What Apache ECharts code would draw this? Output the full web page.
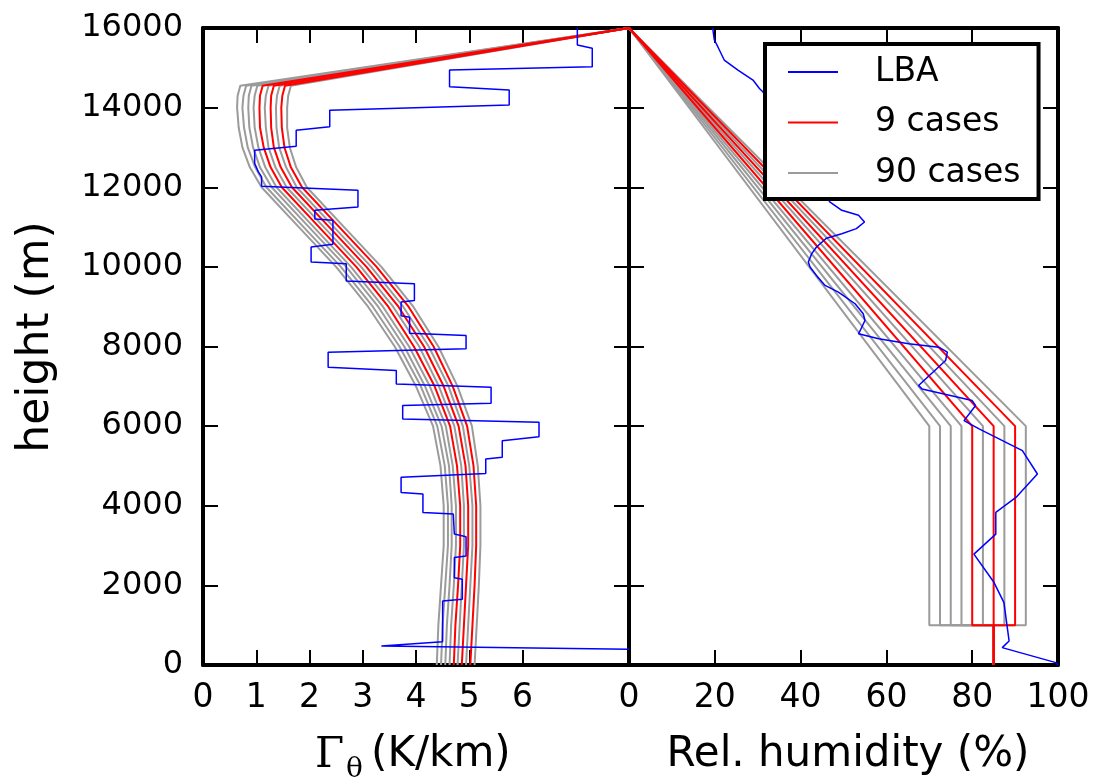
<!DOCTYPE html>
<html>
<head>
<meta charset="utf-8">
<script src="https://cdn.jsdelivr.net/npm/echarts@6/dist/echarts.min.js"></script>
<style>
  html, body { margin: 0; padding: 0; background: #fff; }
  #chart { width: 1094px; height: 781px; }
</style>
</head>
<body>
<div id="chart"></div>
<script>
// Heights (m) at which the lapse-rate profiles are given
const gammaHeights = [0, 1000, 2000, 3000, 4000, 5000, 6000, 7000, 8000, 9000, 10000,
  11000, 12000, 12500, 13000, 13500, 14000, 14300, 14550, 16000];

// Potential temperature lapse rate profiles (K/km), one per case
const gammaProfiles = [
  [4.39, 4.42, 4.47, 4.52, 4.52, 4.46, 4.32, 4.00, 3.60, 3.10, 2.50, 1.80, 1.10, 0.88, 0.74, 0.67, 0.64, 0.65, 0.70, 8],
  [4.47, 4.50, 4.55, 4.60, 4.60, 4.54, 4.40, 4.09, 3.69, 3.19, 2.59, 1.89, 1.19, 0.98, 0.84, 0.77, 0.74, 0.76, 0.81, 8],
  [4.55, 4.58, 4.63, 4.67, 4.67, 4.62, 4.48, 4.17, 3.78, 3.29, 2.69, 1.99, 1.29, 1.07, 0.94, 0.87, 0.85, 0.86, 0.91, 8],
  [4.63, 4.66, 4.71, 4.75, 4.75, 4.69, 4.56, 4.26, 3.87, 3.38, 2.78, 2.08, 1.38, 1.17, 1.04, 0.97, 0.95, 0.97, 1.02, 8],
  [4.71, 4.74, 4.79, 4.83, 4.83, 4.77, 4.64, 4.35, 3.96, 3.48, 2.88, 2.18, 1.48, 1.27, 1.14, 1.07, 1.06, 1.07, 1.12, 8],
  [4.78, 4.82, 4.86, 4.90, 4.90, 4.85, 4.72, 4.43, 4.06, 3.57, 2.97, 2.27, 1.57, 1.36, 1.23, 1.18, 1.16, 1.18, 1.23, 8],
  [4.86, 4.90, 4.94, 4.98, 4.98, 4.93, 4.80, 4.52, 4.15, 3.67, 3.07, 2.37, 1.67, 1.46, 1.33, 1.28, 1.27, 1.28, 1.33, 8],
  [4.94, 4.98, 5.02, 5.06, 5.06, 5.00, 4.88, 4.61, 4.24, 3.76, 3.16, 2.46, 1.76, 1.56, 1.43, 1.38, 1.37, 1.39, 1.44, 8],
  [5.02, 5.06, 5.10, 5.13, 5.13, 5.08, 4.96, 4.69, 4.33, 3.86, 3.26, 2.56, 1.86, 1.65, 1.53, 1.48, 1.47, 1.49, 1.54, 8],
  [5.10, 5.14, 5.18, 5.21, 5.21, 5.16, 5.05, 4.78, 4.42, 3.95, 3.35, 2.65, 1.95, 1.75, 1.63, 1.58, 1.58, 1.60, 1.65, 8]
];

// Free-tropospheric relative humidity (%) of each case, between 1 km and 6 km
const rhLevels = [70, 72.5, 75, 77.5, 80, 82.5, 85, 87.5, 90, 92.5];
// Shape shared by all humidity profiles: surface value, break heights, top
const rhSurface = 85;
const rhProfileHeights = [0, 1000, 1000, 6000, 16000];
const rhTop = 0;

// Which ensemble each case belongs to (same ordering for both panels)
const caseGroup = ['90 cases', '90 cases', '90 cases', '90 cases', '9 cases',
  '90 cases', '9 cases', '90 cases', '9 cases', '90 cases'];

// LBA observed sounding: lapse rate (K/km) and height (m)
const lbaGamma = [8.0, 3.35, 4.50, 4.50, 4.87, 4.87, 4.72, 4.72, 4.94, 4.94, 4.72, 4.70,
  4.13, 4.13, 3.72, 3.72, 5.31, 5.31, 5.62, 5.62, 6.31, 6.31, 3.75, 3.75, 5.41, 5.41,
  3.63, 3.63, 2.35, 2.35, 4.94, 4.94, 3.88, 3.88, 3.72, 3.72, 3.97, 3.97, 2.69, 2.69,
  2.03, 2.03, 2.44, 2.44, 2.10, 2.10, 2.91, 2.91, 1.10, 1.10, 1.04, 0.97, 0.97, 1.75,
  1.75, 2.38, 2.38, 5.75, 5.75, 4.63, 4.63, 7.31, 7.31, 7.03, 7.03];
const lbaGammaHeight = [395, 478, 587, 1610, 1650, 2155, 2190, 2700, 2740, 3220, 3290, 3790,
  3830, 4294, 4330, 4713, 4813, 5174, 5216, 5635, 5736, 6096, 6180, 6516, 6574, 6977,
  7061, 7396, 7480, 7857, 7941, 8277, 8335, 8737, 8770, 9115, 9157, 9577, 9644, 10080,
  10122, 10498, 10566, 11170, 11200, 11421, 11505, 11925, 12025, 12260, 12386, 12600, 12930, 13030,
  13434, 13518, 13937, 14063, 14440, 14524, 14943, 15027, 15490, 15572, 16000];

// LBA observed sounding: relative humidity (%) and height (m)
const lbaRH = [19.5, 19.9, 20.7, 22.2, 25.4, 28.9, 30.4, 31.2, 46.8, 49.6, 53.5, 54.9, 53.0,
  49.6, 46.0, 43.7, 42.6, 41.8, 42.2, 43.7, 45.7, 48.8, 52.7, 54.6, 55.0, 53.9, 53.5, 58.2,
  65.2, 72.2, 74.2, 73.8, 67.5, 68.3, 80.0, 80.8, 78.1, 81.6, 91.7, 95.2, 90.2, 85.5, 85.5,
  80.4, 85.1, 87.4, 88.6, 87.0, 99.5, 100];
const lbaRHHeight = [16000, 15698, 15530, 15195, 14943, 14692, 14482, 14398, 11630, 11421,
  11296, 11128, 10960, 10834, 10720, 10498, 10332, 10122, 9996, 9786, 9535, 9367, 9074,
  8822, 8654, 8403, 8319, 8193, 8068, 7983, 7857, 7648, 7019, 6935, 6642, 6516, 6138,
  5929, 5384, 4797, 4210, 3832, 3288, 2785, 2071, 1568, 604, 436, 59, 0];

// Axis ticks and labels
const gammaTicks = [0, 1, 2, 3, 4, 5, 6];
const rhTicks = [0, 20, 40, 60, 80, 100];
const heightTicks = [0, 2000, 4000, 6000, 8000, 10000, 12000, 14000, 16000];

const COLORS = { 'LBA': '#0000ff', '9 cases': '#ff0000', '90 cases': '#9b9b9b' };
const FONT = 'DejaVu Sans';

const chart = echarts.init(document.getElementById('chart'), null, { renderer: 'canvas' });

function pairs(xs, ys) { return xs.map((x, i) => [x, ys[i]]); }

function lineSeries(name, xIdx, yIdx, data, width) {
  return {
    type: 'line', name: name, xAxisIndex: xIdx, yAxisIndex: yIdx, data: data,
    symbol: 'none', silent: true, animation: false,
    itemStyle: { color: COLORS[name] },
    lineStyle: { color: COLORS[name], width: width }
  };
}

function caseSeries(group) {
  const out = [];
  caseGroup.forEach((g, k) => {
    if (g !== group) return;
    out.push(lineSeries(g, 0, 0, pairs(gammaProfiles[k], gammaHeights), 2));
    const rh = rhLevels[k];
    out.push(lineSeries(g, 2, 2, pairs([rhSurface, rhSurface, rh, rh, rhTop], rhProfileHeights), 2));
  });
  return out;
}

const frameLine = { show: true, onZero: false, lineStyle: { color: '#000', width: 4 } };
const tickStyle = { show: true, inside: true, length: 15, lineStyle: { color: '#000', width: 2 } };

function xAxisDef(grid, pos, min, max, ticks, withLabels) {
  return {
    type: 'value', gridIndex: grid, position: pos, min: min, max: max,
    axisLine: frameLine,
    axisTick: Object.assign({ customValues: ticks }, tickStyle),
    axisLabel: withLabels ? {
      customValues: ticks, fontFamily: FONT, fontSize: 33, color: '#000', margin: 17,
      formatter: v => String(v)
    } : { show: false },
    splitLine: { show: false }
  };
}
function yAxisDef(grid, pos, withLabels) {
  return {
    type: 'value', gridIndex: grid, position: pos, min: 0, max: 16000,
    axisLine: frameLine,
    axisTick: Object.assign({ customValues: heightTicks }, tickStyle),
    axisLabel: withLabels ? {
      customValues: heightTicks, fontFamily: FONT, fontSize: 32, color: '#000', margin: 20,
      formatter: v => String(v)
    } : { show: false },
    splitLine: { show: false }
  };
}

const option = {
  backgroundColor: '#fff',
  animation: false,
  grid: [
    { left: 203, top: 28, width: 426, height: 637 },
    { left: 629, top: 28, width: 429, height: 637 }
  ],
  xAxis: [
    xAxisDef(0, 'bottom', 0, 8, gammaTicks, true),
    xAxisDef(0, 'top', 0, 8, gammaTicks, false),
    xAxisDef(1, 'bottom', 0, 100, rhTicks, true),
    xAxisDef(1, 'top', 0, 100, rhTicks, false)
  ],
  yAxis: [
    yAxisDef(0, 'left', true),
    yAxisDef(0, 'right', false),
    yAxisDef(1, 'left', false),
    yAxisDef(1, 'right', false)
  ],
  legend: {
    data: ['LBA', '9 cases', '90 cases'],
    orient: 'vertical', left: 765, top: 44,
    padding: [10, 18, 8, 23],
    icon: 'rect',
    itemWidth: 50, itemHeight: 2, itemGap: 14.5,
    backgroundColor: '#fff', borderColor: '#000', borderWidth: 4, borderRadius: 0,
    selectedMode: false,
    textStyle: { fontFamily: FONT, fontSize: 33, color: '#000', lineHeight: 36, padding: [0, 0, 0, 32] }
  },
  graphic: [
    {
      type: 'text', x: 37, y: 337, rotation: Math.PI / 2,
      style: { text: 'height (m)', font: '44px "DejaVu Sans"', fill: '#000', align: 'center', verticalAlign: 'middle' }
    },
    {
      type: 'text', x: 315, y: 756,
      style: { text: 'Γ', font: '42px "DejaVu Serif"', fill: '#000', align: 'left', verticalAlign: 'middle' }
    },
    {
      type: 'text', x: 346, y: 770,
      style: { text: 'θ', font: '28px "DejaVu Serif"', fill: '#000', align: 'left', verticalAlign: 'middle' }
    },
    {
      type: 'text', x: 371, y: 755,
      style: { text: '(K/km)', font: '42px "DejaVu Sans"', fill: '#000', align: 'left', verticalAlign: 'middle' }
    },
    {
      type: 'text', x: 848, y: 755,
      style: { text: 'Rel. humidity (%)', font: '42px "DejaVu Sans"', fill: '#000', align: 'center', verticalAlign: 'middle' }
    }
  ],
  series: [].concat(
    caseSeries('90 cases'),
    caseSeries('9 cases'),
    [
      lineSeries('LBA', 0, 0, pairs(lbaGamma, lbaGammaHeight), 1.5),
      lineSeries('LBA', 2, 2, pairs(lbaRH, lbaRHHeight), 1.5)
    ]
  )
};

chart.setOption(option);
</script>
</body>
</html>
